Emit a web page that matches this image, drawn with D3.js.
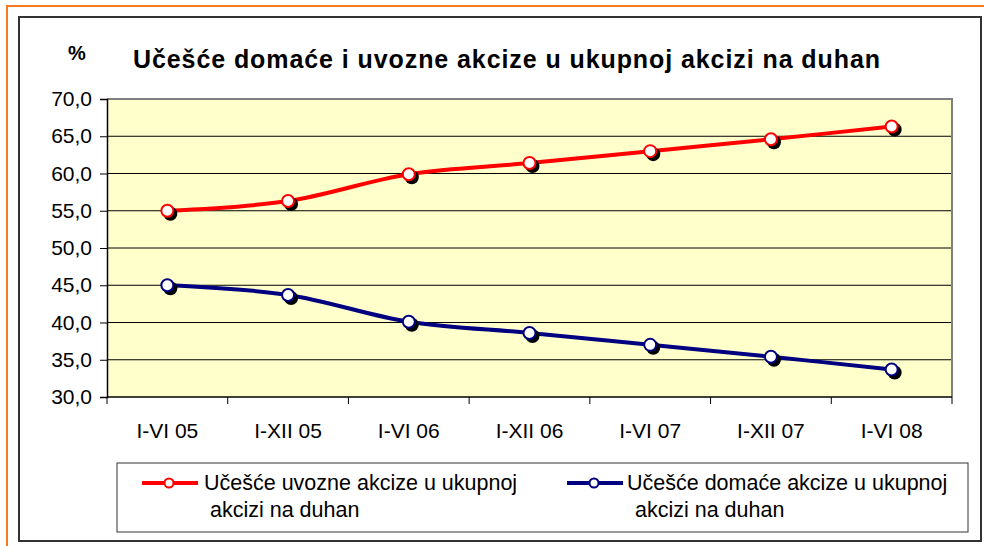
<!DOCTYPE html>
<html>
<head>
<meta charset="utf-8">
<script src="https://cdn.jsdelivr.net/npm/d3@7"></script>
<style>
  body { margin: 0; background: #fff; }
  svg { display: block; font-family: Arial, "Liberation Sans", sans-serif; }
</style>
</head>
<body>
<svg width="984" height="546"></svg>
<script>
var categories = ['I-VI 05', 'I-XII 05', 'I-VI 06', 'I-XII 06', 'I-VI 07', 'I-XII 07', 'I-VI 08']
var uvozne = [55.0, 56.3, 59.9, 61.4, 63.0, 64.6, 66.3]
var domace = [45.0, 43.7, 40.1, 38.6, 37.0, 35.4, 33.7]
var yTicks = [30, 35, 40, 45, 50, 55, 60, 65, 70]
var seriesNames = ['Učešće uvozne akcize u ukupnoj', 'Učešće domaće akcize u ukupnoj']
var title = 'Učešće domaće i uvozne akcize u ukupnoj akcizi na duhan'

var series = [
  { name: seriesNames[0], values: uvozne, color: '#ff0000' },
  { name: seriesNames[1], values: domace, color: '#000080' }
]

var svg = d3.select('svg')
var pLeft = 107, pRight = 952, pTop = 99, pBottom = 397

// frames
svg.append('rect')
    .attr('x', 7).attr('y', 6).attr('width', 990).attr('height', 560)
    .attr('fill', 'none').attr('stroke', '#f57a22').attr('stroke-width', 2)
svg.append('rect')
    .attr('x', 19).attr('y', 17).attr('width', 962).attr('height', 524)
    .attr('fill', '#fff').attr('stroke', '#333').attr('stroke-width', 2)

var x = d3.scaleBand().domain(categories).range([pLeft, pRight])
var y = d3.scaleLinear().domain([30, 70]).range([pBottom, pTop])

// plot area
svg.append('rect')
    .attr('x', pLeft).attr('y', pTop).attr('width', pRight - pLeft).attr('height', pBottom - pTop)
    .attr('fill', '#ffffcc')

svg.append('g')
  .selectAll('line')
  .data(yTicks.slice(1, -1))
  .enter().append('line')
    .attr('x1', pLeft).attr('x2', pRight)
    .attr('y1', function(d) { return y(d) }).attr('y2', function(d) { return y(d) })
    .attr('stroke', '#000').attr('stroke-width', 1)

// grey border top / right
svg.append('path')
    .attr('d', 'M' + pLeft + ',' + pTop + 'H' + pRight + 'V' + pBottom)
    .attr('fill', 'none').attr('stroke', '#808080').attr('stroke-width', 2)

// y axis
var yAxis = d3.axisLeft(y).tickValues(yTicks).tickSize(7).tickPadding(8)
    .tickFormat(function(d) { return d3.format('.1f')(d).replace('.', ',') })
var gy = svg.append('g').attr('transform', 'translate(' + pLeft + ',0)').call(yAxis)
gy.select('.domain').attr('stroke', '#000').attr('stroke-width', 1.5)
gy.selectAll('.tick line').attr('stroke', '#000')
gy.selectAll('text').attr('font-size', 21).attr('fill', '#000')
    .attr('font-family', 'Arial, "Liberation Sans", sans-serif')

// x axis
var gx = svg.append('g').attr('transform', 'translate(0,' + pBottom + ')')
gx.append('line').attr('x1', pLeft).attr('x2', pRight).attr('stroke', '#000').attr('stroke-width', 1.5)
gx.selectAll('.tk')
  .data(categories.concat(['end']))
  .enter().append('line')
    .attr('x1', function(d, i) { return i < categories.length ? x(d) : pRight })
    .attr('x2', function(d, i) { return i < categories.length ? x(d) : pRight })
    .attr('y1', 0).attr('y2', 7)
    .attr('stroke', '#000')
gx.selectAll('text')
  .data(categories)
  .enter().append('text')
    .attr('x', function(d) { return x(d) + x.bandwidth() / 2 })
    .attr('y', 41)
    .attr('text-anchor', 'middle')
    .attr('font-size', 21)
    .text(function(d) { return d })

// lines
var line = d3.line()
    .x(function(d, i) { return x(categories[i]) + x.bandwidth() / 2 })
    .y(function(d) { return y(d) })
    .curve(d3.curveCatmullRom.alpha(0.5))

series.forEach(function(s) {
  svg.append('path')
      .attr('d', line(s.values))
      .attr('fill', 'none')
      .attr('stroke', s.color)
      .attr('stroke-width', 4)
})

series.forEach(function(s) {
  var g = svg.append('g')
  g.selectAll('.shadow')
    .data(s.values)
    .enter().append('circle')
      .attr('cx', function(d, i) { return x(categories[i]) + x.bandwidth() / 2 + 3 })
      .attr('cy', function(d) { return y(d) + 3 })
      .attr('r', 7)
      .attr('fill', '#000')
  g.selectAll('.mark')
    .data(s.values)
    .enter().append('circle')
      .attr('cx', function(d, i) { return x(categories[i]) + x.bandwidth() / 2 })
      .attr('cy', function(d) { return y(d) })
      .attr('r', 6)
      .attr('fill', '#fff')
      .attr('stroke', s.color)
      .attr('stroke-width', 2)
})

// title
svg.append('text')
    .attr('x', 68).attr('y', 60)
    .attr('font-size', 20).attr('font-weight', 'bold')
    .text('%')
svg.append('text')
    .attr('x', 133).attr('y', 68)
    .attr('font-size', 25).attr('font-weight', 'bold')
    .attr('textLength', 747).attr('lengthAdjust', 'spacing')
    .text(title)

// legend
svg.append('rect')
    .attr('x', 117).attr('y', 463).attr('width', 851).attr('height', 69)
    .attr('fill', '#fff').attr('stroke', '#333').attr('stroke-width', 1)

var legendPos = [{ x: 142, tx: 204, tx2: 210 }, { x: 567, tx: 627, tx2: 635 }]
series.forEach(function(s, i) {
  var p = legendPos[i]
  var g = svg.append('g')
  g.append('line')
      .attr('x1', p.x).attr('x2', p.x + 56).attr('y1', 483).attr('y2', 483)
      .attr('stroke', s.color).attr('stroke-width', 4)
  g.append('circle')
      .attr('cx', p.x + 27).attr('cy', 483).attr('r', 4.5)
      .attr('fill', '#fff').attr('stroke', s.color).attr('stroke-width', 2)
  g.append('text')
      .attr('x', p.tx).attr('y', 490)
      .attr('font-size', 21.5)
      .text(s.name)
  g.append('text')
      .attr('x', p.tx2).attr('y', 517)
      .attr('font-size', 21.5)
      .text('akcizi na duhan')
})
</script>
</body>
</html>
